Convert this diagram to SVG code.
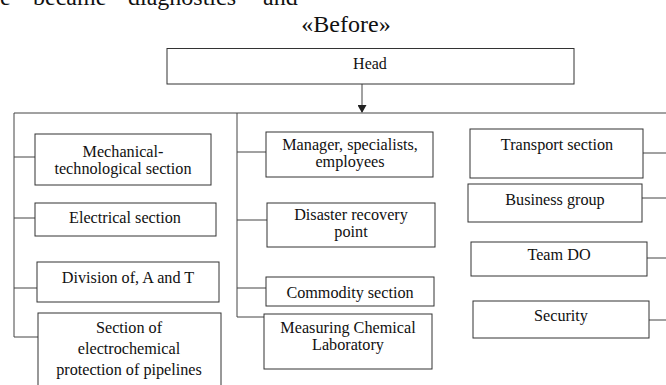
<svg xmlns="http://www.w3.org/2000/svg" width="666" height="385" viewBox="0 0 666 385">
<style>
.box{fill:#fff;stroke:#333;stroke-width:1}
.ln{stroke:#444;stroke-width:1;fill:none}
text{font-family:"Liberation Serif","Times New Roman",serif;fill:#111;text-anchor:middle}
.t{font-size:16.2px}
.h{font-size:16px}
.p{font-size:24px;text-anchor:start}
</style>
<defs>
<marker id="ah" markerWidth="8" markerHeight="9" refX="7" refY="4.5" orient="auto" markerUnits="userSpaceOnUse">
<path d="M0,0 L8,4.5 L0,9 Z" fill="#222"/>
</marker>
</defs>
<rect width="666" height="385" fill="#fff"/>
<text class="p" x="0" y="5">e</text>
<text class="p" x="33" y="5">became</text>
<text class="p" x="128" y="5">diagnostics</text>
<text class="p" x="263" y="5">and</text>
<text x="346" y="32" style="font-size:24px">«Before»</text>
<g id="connectors">
<line class="ln" x1="362" y1="84" x2="362" y2="112" marker-end="url(#ah)"/>
<line class="ln" x1="14" y1="113" x2="666" y2="113"/>
<polyline class="ln" points="14,113 14,337 38,337"/>
<line class="ln" x1="14" y1="157" x2="35" y2="157"/>
<line class="ln" x1="14" y1="218" x2="35" y2="218"/>
<line class="ln" x1="14" y1="288" x2="37" y2="288"/>
<polyline class="ln" points="237,113 237,317 264,317"/>
<line class="ln" x1="237" y1="152" x2="266" y2="152"/>
<line class="ln" x1="237" y1="220" x2="267" y2="220"/>
<line class="ln" x1="237" y1="288" x2="266" y2="288"/>
<line class="ln" x1="643" y1="153" x2="666" y2="153"/>
<line class="ln" x1="642" y1="198" x2="666" y2="198"/>
<line class="ln" x1="647" y1="258" x2="666" y2="258"/>
<line class="ln" x1="649" y1="320" x2="666" y2="320"/>
</g>
<g id="head"><rect class="box" x="167" y="48.5" width="407" height="35.5"/><text class="h" x="370" y="69">Head</text></g>
<g id="mech"><rect class="box" x="35" y="134" width="176" height="51"/><text class="t" x="123" y="157">Mechanical-</text><text class="t" x="123" y="174">technological section</text></g>
<g id="elec"><rect class="box" x="35" y="203" width="181" height="33"/><text class="t" x="125" y="223">Electrical section</text></g>
<g id="div"><rect class="box" x="37" y="262" width="182" height="40"/><text class="t" x="128" y="283">Division of, A and T</text></g>
<g id="ecp"><rect class="box" x="38" y="313" width="183" height="80"/><text class="t" x="129" y="333">Section of</text><text class="t" x="129" y="354">electrochemical</text><text class="t" x="129" y="375">protection of pipelines</text></g>
<g id="mgr"><rect class="box" x="266" y="132" width="167" height="45"/><text class="t" x="350" y="150">Manager, specialists,</text><text class="t" x="350" y="167">employees</text></g>
<g id="dis"><rect class="box" x="267" y="203" width="168" height="44"/><text class="t" x="351" y="220">Disaster recovery</text><text class="t" x="351" y="237">point</text></g>
<g id="com"><rect class="box" x="266" y="277" width="168" height="29"/><text class="t" x="350" y="298">Commodity section</text></g>
<g id="lab"><rect class="box" x="264" y="314" width="168" height="55"/><text class="t" x="348" y="333">Measuring Chemical</text><text class="t" x="348" y="350">Laboratory</text></g>
<g id="trans"><rect class="box" x="470" y="129" width="173" height="49"/><text class="t" x="557" y="150">Transport section</text></g>
<g id="bus"><rect class="box" x="468" y="184" width="174" height="38"/><text class="t" x="555" y="205">Business group</text></g>
<g id="team"><rect class="box" x="471" y="242" width="176" height="34"/><text class="t" x="559" y="260">Team DO</text></g>
<g id="sec"><rect class="box" x="473" y="301" width="176" height="37"/><text class="t" x="561" y="321">Security</text></g>
</svg>
